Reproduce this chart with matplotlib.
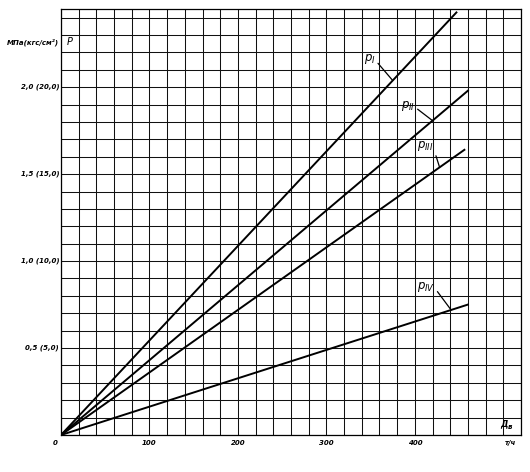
import matplotlib.pyplot as plt
import numpy as np

# line end points (origin -> end)
names = ['I', 'II', 'III', 'IV']
x_end = [447, 460, 456, 460]
p_end = [2.43, 1.98, 1.64, 0.75]

# leader targets along each line and label spots
lead_x = [375, 420, 428, 441]
label_xy = [(342, 2.16), (384, 1.89), (402, 1.66), (402, 0.85)]

yticks = [0.5, 1.0, 1.5, 2.0]
ylabels = ['0,5 (5,0)', '1,0 (10,0)', '1,5 (15,0)', '2,0 (20,0)']
xticks = [100, 200, 300, 400]

font = dict(family='DejaVu Sans', style='italic', weight='bold', fontsize=5)

fig = plt.figure(figsize=(5.3, 4.72), dpi=100)
ax = fig.add_axes([0.1151, 0.0784, 0.983 - 0.1151, 0.981 - 0.0784])

ax.set_xlim(0, 520)
ax.set_ylim(0, 2.45)
ax.set_xticks(np.arange(0, 521, 20))
ax.set_yticks(np.arange(0, 2.45, 0.1))
ax.grid(True, color='#111111', linewidth=0.75)
ax.tick_params(length=0, labelleft=False, labelbottom=False)
for s in ax.spines.values():
    s.set_linewidth(0.9)

for i in range(len(names)):
    ax.plot([0, x_end[i]], [0, p_end[i]], color='black', linewidth=1.4)
    ly = p_end[i] / x_end[i] * lead_x[i]
    ax.annotate(r'$p_{%s}$' % names[i], xy=(lead_x[i], ly),
                xytext=label_xy[i], ha='left', va='center', fontsize=8.5,
                arrowprops=dict(arrowstyle='-', color='black', lw=0.9,
                                relpos=(1, 0.45), shrinkA=0, shrinkB=0))

for v, lab in zip(yticks, ylabels):
    ax.text(-2, v, lab, ha='right', va='center', **font)
for v in xticks:
    ax.text(v, -0.03, str(v), ha='center', va='top', **font)
ax.text(-4, -0.03, '0', ha='right', va='top', **font)
ax.text(-2, 2.26, 'МПа(кгс/см²)', ha='right', va='center', **font)
ax.text(6, 2.26, 'P', ha='left', va='center', family='DejaVu Sans',
        style='italic', fontsize=7)
ax.text(505, 0.04, 'Д', ha='right', va='bottom', family='DejaVu Sans',
        style='italic', weight='bold', fontsize=6)
ax.text(505, 0.03, 'в', ha='left', va='bottom', **font)
ax.text(514, -0.03, 'т/ч', ha='right', va='top', **font)

fig.savefig('out.png', dpi=100)
